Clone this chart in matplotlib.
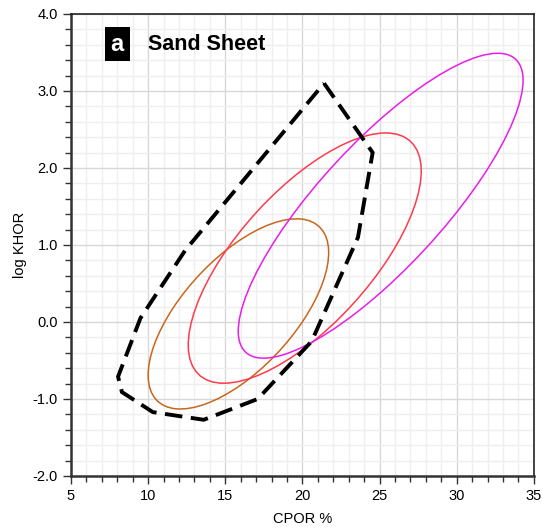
import numpy as np
import matplotlib
matplotlib.use("Agg")
import matplotlib.pyplot as plt
from matplotlib.patches import Ellipse
from matplotlib.ticker import MultipleLocator, FormatStrFormatter

plt.rcParams['font.family'] = ['Liberation Sans', 'DejaVu Sans']

# ellipses: centre, half x-range, half y-range, correlation
ell_names = ['orange', 'red', 'magenta']
ell_colors = ['#c8661c', '#ff3a4c', '#e81ee8']
ell_cx = [15.85, 20.15, 25.07]
ell_cy = [0.105, 0.83, 1.51]
ell_ax = [5.85, 7.55, 9.23]
ell_ay = [1.235, 1.625, 1.98]
ell_r = [0.644, 0.695, 0.822]

# dashed outline (CPOR %, log KHOR)
poly_x = [21.4, 24.55, 23.6, 20.6, 17.1, 13.6, 10.3, 8.3, 8.05, 9.5, 12.4, 21.4]
poly_y = [3.1, 2.2, 1.1, -0.25, -1.0, -1.27, -1.17, -0.91, -0.71, 0.05, 0.93, 3.1]

fig = plt.figure(figsize=(5.42, 5.30), dpi=100)
ax = fig.add_axes([0.131, 0.1019, 0.854, 0.8717])

ax.set_xlim(5, 35)
ax.set_ylim(-2, 4)
ax.xaxis.set_major_locator(MultipleLocator(5))
ax.xaxis.set_minor_locator(MultipleLocator(1))
ax.yaxis.set_major_locator(MultipleLocator(1))
ax.yaxis.set_minor_locator(MultipleLocator(0.2))
ax.yaxis.set_major_formatter(FormatStrFormatter('%.1f'))

ax.grid(which='minor', color='#efefef', lw=1)
ax.grid(which='major', color='#d8d8d8', lw=1)
ax.set_axisbelow(True)

ax.tick_params(which='major', length=6, width=1, labelsize=10.5, color='#333333')
ax.tick_params(which='minor', length=4, width=1, color='#333333')
for s in ['left', 'bottom']:
    ax.spines[s].set_linewidth(1.8)
    ax.spines[s].set_color('#333333')
for s in ['top', 'right']:
    ax.spines[s].set_linewidth(1.2)
    ax.spines[s].set_color('#222222')

for cx, cy, a, b, r, c in zip(ell_cx, ell_cy, ell_ax, ell_ay, ell_r, ell_colors):
    m = np.array([[a * a, r * a * b], [r * a * b, b * b]])
    w, v = np.linalg.eigh(m)
    ang = np.degrees(np.arctan2(v[1, 1], v[0, 1]))
    e = Ellipse((cx, cy), 2 * np.sqrt(w[1]), 2 * np.sqrt(w[0]), angle=ang,
                fill=False, edgecolor=c, lw=1.1, zorder=3)
    ax.add_patch(e)

ax.plot(poly_x, poly_y, color='black', lw=2.8, dashes=(4.5, 2.2), zorder=4,
        dash_joinstyle='miter', dash_capstyle='butt')

ax.text(0.1, 0.935, 'a', transform=ax.transAxes, color='white', fontsize=17,
        fontweight='bold', ha='center', va='center',
        bbox=dict(boxstyle='square,pad=0.25', fc='black', ec='none'))
ax.text(0.166, 0.935, 'Sand Sheet', transform=ax.transAxes, fontsize=15.5,
        fontweight='bold', ha='left', va='center')

ax.set_xlabel('CPOR %', fontsize=10.5, labelpad=6)
ax.set_ylabel('log KHOR', fontsize=10.5, labelpad=4)

fig.savefig('out.png', dpi=100)
